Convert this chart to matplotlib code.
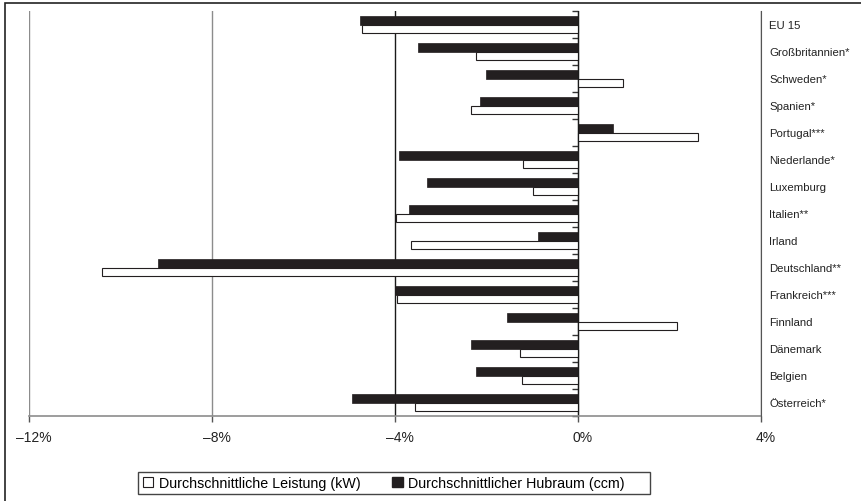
import matplotlib
matplotlib.use('Agg')
import matplotlib.pyplot as plt
import matplotlib.transforms as mtransforms
from matplotlib.patches import Patch, Rectangle
import numpy as np

plt.rcParams['font.family'] = ['Liberation Sans', 'DejaVu Sans']

# categories top to bottom
countries = ['EU 15', 'Großbritannien*', 'Schweden*', 'Spanien*', 'Portugal***',
             'Niederlande*', 'Luxemburg', 'Italien**', 'Irland', 'Deutschland**',
             'Frankreich***', 'Finnland', 'Dänemark', 'Belgien', 'Österreich*']
# change in %
hubraum = [-4.77, -3.49, -2.01, -2.14, 0.77, -3.91, -3.30, -3.69, -0.87, -9.18,
           -4.00, -1.55, -2.34, -2.23, -4.93]
leistung = [-4.72, -2.23, 0.99, -2.33, 2.63, -1.21, -0.98, -3.98, -3.65, -10.41,
            -3.95, 2.16, -1.26, -1.22, -3.56]
xticks = [-12, -8, -4, 0, 4]
xtick_labels = ['–12%', '–8%', '–4%', '0%', '4%']

W, H = 861, 502
fig = plt.figure(figsize=(W / 100, H / 100), dpi=100)
ax = fig.add_axes([29 / W, (H - 417) / H, (761 - 29) / W, (417 - 12) / H])

# outer frame
fig.patches.append(Rectangle((5 / W, -0.1), 1.2, 1 - 4 / H + 0.1, transform=fig.transFigure,
                             fill=False, edgecolor='#222222', linewidth=1.2))

y = np.arange(len(countries))
bh = 0.31
ax.barh(y - 0.155, hubraum, height=bh, color='#231f20', edgecolor='#231f20', linewidth=0.5,
        zorder=3, label='Durchschnittlicher Hubraum (ccm)')
ax.barh(y + 0.155, leistung, height=bh, color='white', edgecolor='#231f20', linewidth=0.8,
        zorder=3, label='Durchschnittliche Leistung (kW)')

ax.set_xlim(-12, 4)
ax.set_ylim(len(countries) - 0.5, -0.5)

# vertical gridlines
grid_colors = ['#8c8c8c', '#8c8c8c', '#1a1a1a', '#1a1a1a', '#555555']
for xv, c in zip(xticks, grid_colors):
    ax.axvline(xv, color=c, linewidth=1.0, zorder=1)

for s in ['top', 'right']:
    ax.spines[s].set_visible(False)
ax.spines['bottom'].set_color('#8c8c8c')
ax.spines['bottom'].set_linewidth(1.2)
ax.spines['bottom'].set_zorder(4)
ax.spines['left'].set_position(('data', 0))
ax.spines['left'].set_color('#1a1a1a')
ax.spines['left'].set_zorder(4)

ax.set_xticks(xticks)
ax.set_xticklabels(xtick_labels, fontsize=10, color='#222222')
ax.tick_params(axis='x', direction='out', length=4, width=1, color='#555555', pad=6)
offset = mtransforms.ScaledTranslation(5 / 100, 0, fig.dpi_scale_trans)
for lab in ax.get_xticklabels():
    lab.set_transform(lab.get_transform() + offset)

ax.set_yticks(np.arange(len(countries) + 1) - 0.5)
ax.set_yticklabels([])
ax.tick_params(axis='y', direction='out', length=4, width=1, color='#333333')

# category labels on the right
ax2 = ax.twinx()
ax2.set_ylim(ax.get_ylim())
ax2.set_yticks(y)
ax2.set_yticklabels(countries, fontsize=8.2, color='#222222')
ax2.tick_params(axis='y', length=0, pad=6)
for s in ['top', 'left', 'bottom']:
    ax2.spines[s].set_visible(False)
ax2.spines['right'].set_color('#555555')

handles = [Patch(facecolor='white', edgecolor='#231f20', linewidth=0.8),
           Patch(facecolor='#231f20', edgecolor='#231f20')]
labels = ['Durchschnittliche Leistung (kW)', 'Durchschnittlicher Hubraum (ccm)']
leg = fig.legend(handles, labels, loc='center left', bbox_to_anchor=(143 / W, 1 - 484 / H), ncol=2,
                 fontsize=10.3, frameon=False,
                 handlelength=0.72, handleheight=0.72, handletextpad=0.4, columnspacing=2.2,
                 borderpad=0.0, borderaxespad=0)
# legend box
fig.patches.append(Rectangle((138 / W, 1 - 495 / H), (650 - 138) / W, 22 / H,
                             transform=fig.transFigure, fill=False,
                             edgecolor='#444444', linewidth=1.0))

fig.savefig('out.png', dpi=100)
